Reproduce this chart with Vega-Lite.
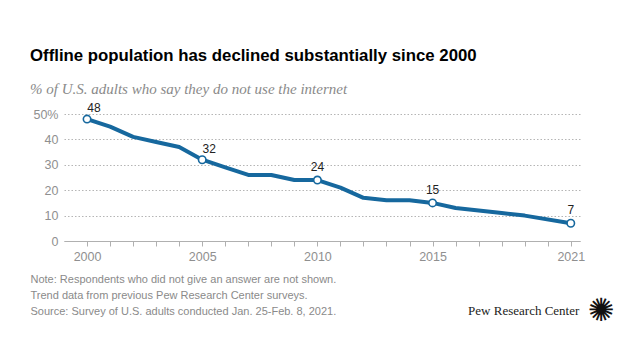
{
  "$schema": "https://vega.github.io/schema/vega-lite/v6.json",
  "width": 516,
  "height": 127,
  "autosize": {"type": "none"},
  "padding": {"left": 64, "top": 114, "right": 60, "bottom": 119},
  "background": "white",
  "title": {
    "text": "Offline population has declined substantially since 2000",
    "subtitle": "% of U.S. adults who say they do not use the internet",
    "anchor": "start",
    "frame": "group",
    "dx": -34,
    "offset": 5,
    "font": "Liberation Sans, sans-serif",
    "fontSize": 16.8,
    "fontWeight": "bold",
    "color": "#000000",
    "subtitleFont": "Liberation Serif, serif",
    "subtitleFontStyle": "italic",
    "subtitleFontSize": 15,
    "subtitleColor": "#8a8a8a",
    "subtitlePadding": 17
  },
  "config": {
    "view": {"stroke": null},
    "axis": {
      "labelFont": "Liberation Sans, sans-serif",
      "labelFontSize": 12.5,
      "labelColor": "#8f8f8f"
    }
  },
  "datasets": {
    "trend": [
      {"year": 2000, "pct": 48},
      {"year": 2001, "pct": 45},
      {"year": 2002, "pct": 41},
      {"year": 2003, "pct": 39},
      {"year": 2004, "pct": 37},
      {"year": 2005, "pct": 32},
      {"year": 2006, "pct": 29},
      {"year": 2007, "pct": 26},
      {"year": 2008, "pct": 26},
      {"year": 2009, "pct": 24},
      {"year": 2010, "pct": 24},
      {"year": 2011, "pct": 21},
      {"year": 2012, "pct": 17},
      {"year": 2013, "pct": 16},
      {"year": 2014, "pct": 16},
      {"year": 2015, "pct": 15},
      {"year": 2016, "pct": 13},
      {"year": 2018, "pct": 11},
      {"year": 2019, "pct": 10},
      {"year": 2021, "pct": 7}
    ],
    "footer": [
      {"label": "Pew Research Center", "year": 2021.37, "pct": -27.5}
    ],
    "logo": [
      {"label": "✺", "year": 2022.32, "pct": -27.5}
    ]
  },
  "encoding": {
    "x": {
      "field": "year",
      "type": "quantitative",
      "scale": {"domain": [1999, 2021.4], "nice": false, "zero": false},
      "axis": {
        "values": [2000, 2001, 2002, 2003, 2004, 2005, 2006, 2007, 2008, 2009, 2010, 2011, 2012, 2013, 2014, 2015, 2016, 2017, 2018, 2019, 2020, 2021],
        "format": "d",
        "labelExpr": "indexof([2000, 2005, 2010, 2015, 2021], datum.value) >= 0 ? datum.label : ''",
        "labelOverlap": false,
        "labelFlush": false,
        "grid": false,
        "domainColor": "#b0b0b0",
        "tickColor": "#b0b0b0",
        "tickSize": 5,
        "labelPadding": 4,
        "title": ["Note: Respondents who did not give an answer are not shown.", "Trend data from previous Pew Research Center surveys.", "Source: Survey of U.S. adults conducted Jan. 25-Feb. 8, 2021."],
        "titleFont": "Liberation Sans, sans-serif",
        "titleFontSize": 11,
        "titleFontWeight": "normal",
        "titleColor": "#8a8a8a",
        "titleAlign": "left",
        "titleAnchor": "start",
        "titleBaseline": "middle",
        "titleX": -34,
        "titleY": 38,
        "titleLineHeight": 16
      }
    },
    "y": {
      "field": "pct",
      "type": "quantitative",
      "scale": {"domain": [0, 50], "nice": false},
      "axis": {
        "values": [0, 10, 20, 30, 40, 50],
        "labelExpr": "datum.value == 50 ? '50%' : datum.label",
        "labelOverlap": false,
        "labelFlush": false,
        "domain": false,
        "ticks": false,
        "grid": true,
        "labelPadding": 6,
        "gridColor": "#b5b5b5",
        "gridDash": [1.5, 2],
        "gridWidth": 1,
        "gridOpacity": 1,
        "title": null
      }
    }
  },
  "layer": [
    {
      "data": {"name": "trend"},
      "mark": {"type": "line", "color": "#16689e", "strokeWidth": 4, "strokeJoin": "round", "strokeCap": "round"}
    },
    {
      "data": {"name": "trend"},
      "transform": [{"filter": "indexof([2000, 2005, 2010, 2015, 2021], datum.year) >= 0"}],
      "mark": {"type": "point", "filled": true, "fill": "white", "stroke": "#16689e", "strokeWidth": 1.6, "size": 55, "opacity": 1}
    },
    {
      "data": {"name": "trend"},
      "transform": [{"filter": "datum.year == 2000 || datum.year == 2005"}],
      "mark": {"type": "text", "dx": 7, "dy": -11, "font": "Liberation Sans, sans-serif", "fontSize": 12, "color": "#222222"},
      "encoding": {
        "text": {"field": "pct", "type": "quantitative"}
      }
    },
    {
      "data": {"name": "trend"},
      "transform": [{"filter": "datum.year == 2010 || datum.year == 2015 || datum.year == 2021"}],
      "mark": {"type": "text", "dy": -13, "font": "Liberation Sans, sans-serif", "fontSize": 12, "color": "#222222"},
      "encoding": {
        "text": {"field": "pct", "type": "quantitative"}
      }
    },
    {
      "data": {"name": "footer"},
      "mark": {"type": "text", "align": "right", "baseline": "middle", "font": "Liberation Serif, serif", "fontSize": 13, "color": "#222222", "clip": false},
      "encoding": {
        "text": {"field": "label"}
      }
    },
    {
      "data": {"name": "logo"},
      "mark": {"type": "text", "align": "center", "baseline": "middle", "font": "DejaVu Sans, sans-serif", "fontSize": 32, "color": "#111111", "clip": false},
      "encoding": {
        "text": {"field": "label"}
      }
    }
  ]
}
